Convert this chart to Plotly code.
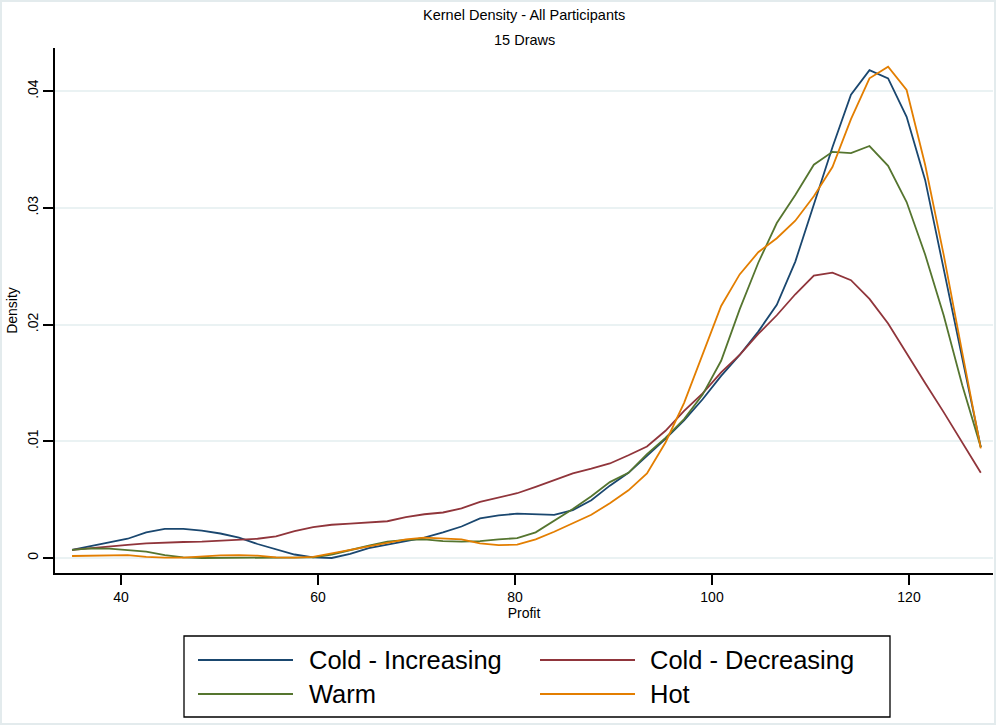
import plotly.graph_objects as go

# ---- data ----
profit = [35.03, 36.92, 38.80, 40.68, 42.56, 44.45, 46.33, 48.21, 50.09, 51.98,
          53.86, 55.74, 57.62, 59.51, 61.39, 63.27, 65.15, 67.04, 68.92, 70.80,
          72.69, 74.57, 76.45, 78.34, 80.22, 82.10, 83.98, 85.87, 87.75, 89.63,
          91.52, 93.40, 95.28, 97.17, 99.05, 100.93, 102.81, 104.70, 106.58, 108.46,
          110.34, 112.23, 114.11, 115.99, 117.88, 119.76, 121.64, 123.52, 125.41, 127.29]

cold_increasing = [0.00069, 0.00100, 0.00135, 0.00165, 0.00220, 0.00250, 0.00250, 0.00235, 0.00210, 0.00175,
                   0.00120, 0.00075, 0.00030, 0.00005, 0.00000, 0.00035, 0.00085, 0.00115, 0.00145, 0.00175,
                   0.00220, 0.00270, 0.00340, 0.00365, 0.00380, 0.00378, 0.00370, 0.00410, 0.00495, 0.00620,
                   0.00730, 0.00875, 0.01020, 0.01180, 0.01360, 0.01560, 0.01740, 0.01940, 0.02170, 0.02540,
                   0.03030, 0.03520, 0.03970, 0.04180, 0.04110, 0.03780, 0.03240, 0.02480, 0.01700, 0.00950]

cold_decreasing = [0.00069, 0.00085, 0.00100, 0.00112, 0.00125, 0.00133, 0.00137, 0.00140, 0.00150, 0.00157,
                   0.00165, 0.00185, 0.00230, 0.00265, 0.00285, 0.00295, 0.00305, 0.00315, 0.00350, 0.00375,
                   0.00390, 0.00425, 0.00480, 0.00520, 0.00555, 0.00610, 0.00670, 0.00725, 0.00765, 0.00810,
                   0.00880, 0.00955, 0.01090, 0.01260, 0.01410, 0.01590, 0.01740, 0.01920, 0.02080, 0.02260,
                   0.02420, 0.02445, 0.02380, 0.02220, 0.02010, 0.01750, 0.01500, 0.01250, 0.00990, 0.00730]

warm = [0.00069, 0.00082, 0.00080, 0.00070, 0.00055, 0.00025, 0.00005, 0.00000, 0.00000, 0.00000,
        0.00000, 0.00000, 0.00000, 0.00005, 0.00030, 0.00070, 0.00105, 0.00140, 0.00155, 0.00160,
        0.00145, 0.00140, 0.00145, 0.00160, 0.00170, 0.00220, 0.00320, 0.00420, 0.00530, 0.00650,
        0.00730, 0.00890, 0.01030, 0.01190, 0.01400, 0.01690, 0.02130, 0.02530, 0.02870, 0.03110,
        0.03370, 0.03480, 0.03470, 0.03530, 0.03360, 0.03050, 0.02600, 0.02080, 0.01480, 0.00950]

hot = [0.00017, 0.00020, 0.00025, 0.00025, 0.00010, 0.00003, 0.00003, 0.00015, 0.00022, 0.00025,
       0.00020, 0.00005, 0.00003, 0.00010, 0.00040, 0.00070, 0.00105, 0.00135, 0.00160, 0.00175,
       0.00170, 0.00160, 0.00125, 0.00110, 0.00115, 0.00160, 0.00225, 0.00295, 0.00370, 0.00470,
       0.00580, 0.00725, 0.00990, 0.01330, 0.01750, 0.02160, 0.02430, 0.02620, 0.02740, 0.02890,
       0.03100, 0.03350, 0.03760, 0.04110, 0.04210, 0.04010, 0.03370, 0.02600, 0.01760, 0.00940]

series_names = ["Cold - Increasing", "Cold - Decreasing", "Warm", "Hot"]
series_values = [cold_increasing, cold_decreasing, warm, hot]
series_colors = ["#1a476f", "#90353b", "#55752f", "#e37e00"]

x_ticks = [40, 60, 80, 100, 120]
y_ticks = [0, 0.01, 0.02, 0.03, 0.04]
y_ticktext = ["0", ".01", ".02", ".03", ".04"]

FONT = "Liberation Sans, Arial, sans-serif"

fig = go.Figure()
for name, vals, col in zip(series_names, series_values, series_colors):
    fig.add_trace(go.Scatter(x=profit, y=vals, mode="lines", name=name,
                             line=dict(color=col, width=1.8), showlegend=False))

# geometry of plot area (pixels)
L, R, T, B = 55, 3, 48, 152
W, H = 996, 725
pw, ph = W - L - R, H - T - B

def px2x(px):
    return (px - L) / pw

def py2y(py):
    return (H - B - py) / ph

shapes = []
annotations = []

# custom legend (Stata style: long line samples, boxed, two columns)
shapes.append(dict(type="rect", xref="paper", yref="paper",
                   x0=px2x(184), x1=px2x(890), y0=py2y(717), y1=py2y(636),
                   line=dict(color="black", width=1.3), fillcolor="white", layer="above"))
col_line_x = [(198, 293), (540, 635)]
col_text_x = [307, 648]
row_y = [660, 694]
for k, (name, col) in enumerate(zip(series_names, series_colors)):
    r, c = divmod(k, 2)
    x0, x1 = col_line_x[c]
    shapes.append(dict(type="line", xref="paper", yref="paper",
                       x0=px2x(x0), x1=px2x(x1), y0=py2y(row_y[r]), y1=py2y(row_y[r]),
                       line=dict(color=col, width=1.8), layer="above"))
    annotations.append(dict(text=name, xref="paper", yref="paper",
                            x=px2x(col_text_x[c]), y=py2y(row_y[r]),
                            xanchor="left", yanchor="middle", showarrow=False,
                            font=dict(size=25.5, color="black", family=FONT)))

# titles
annotations.append(dict(text="Kernel Density - All Participants", xref="paper", yref="paper",
                        x=0.5, y=py2y(15), xanchor="center", yanchor="middle", showarrow=False,
                        font=dict(size=14.5, color="black", family=FONT)))
annotations.append(dict(text="15 Draws", xref="paper", yref="paper",
                        x=0.5, y=py2y(40), xanchor="center", yanchor="middle", showarrow=False,
                        font=dict(size=14.5, color="black", family=FONT)))

# faint outer frame
shapes.append(dict(type="rect", xref="paper", yref="paper",
                   x0=px2x(1), x1=px2x(995), y0=py2y(724), y1=py2y(1),
                   line=dict(color="#e3ebed", width=2), layer="below"))

fig.update_layout(
    width=W, height=H,
    margin=dict(l=L, r=R, t=T, b=B, pad=0),
    paper_bgcolor="white", plot_bgcolor="white",
    font=dict(family=FONT, size=14, color="black"),
    shapes=shapes, annotations=annotations,
    showlegend=False,
)
fig.update_xaxes(range=[33.3, 128.53], tickvals=x_ticks, showgrid=False, zeroline=False,
                 showline=True, linecolor="black", linewidth=1.5,
                 ticks="outside", ticklen=10, tickwidth=1.5, tickcolor="black",
                 tickfont=dict(size=14), title=dict(text="Profit", font=dict(size=14), standoff=2))
fig.update_yaxes(range=[-0.001285, 0.0437], tickvals=y_ticks, ticktext=y_ticktext,
                 showgrid=True, gridcolor="#eaf2f3", gridwidth=2, zeroline=False,
                 showline=True, linecolor="black", linewidth=1.5,
                 ticks="outside", ticklen=10, tickwidth=1.5, tickcolor="black",
                 tickangle=-90, tickfont=dict(size=14),
                 title=dict(text="Density", font=dict(size=14), standoff=4))

fig.write_html("out.html")
